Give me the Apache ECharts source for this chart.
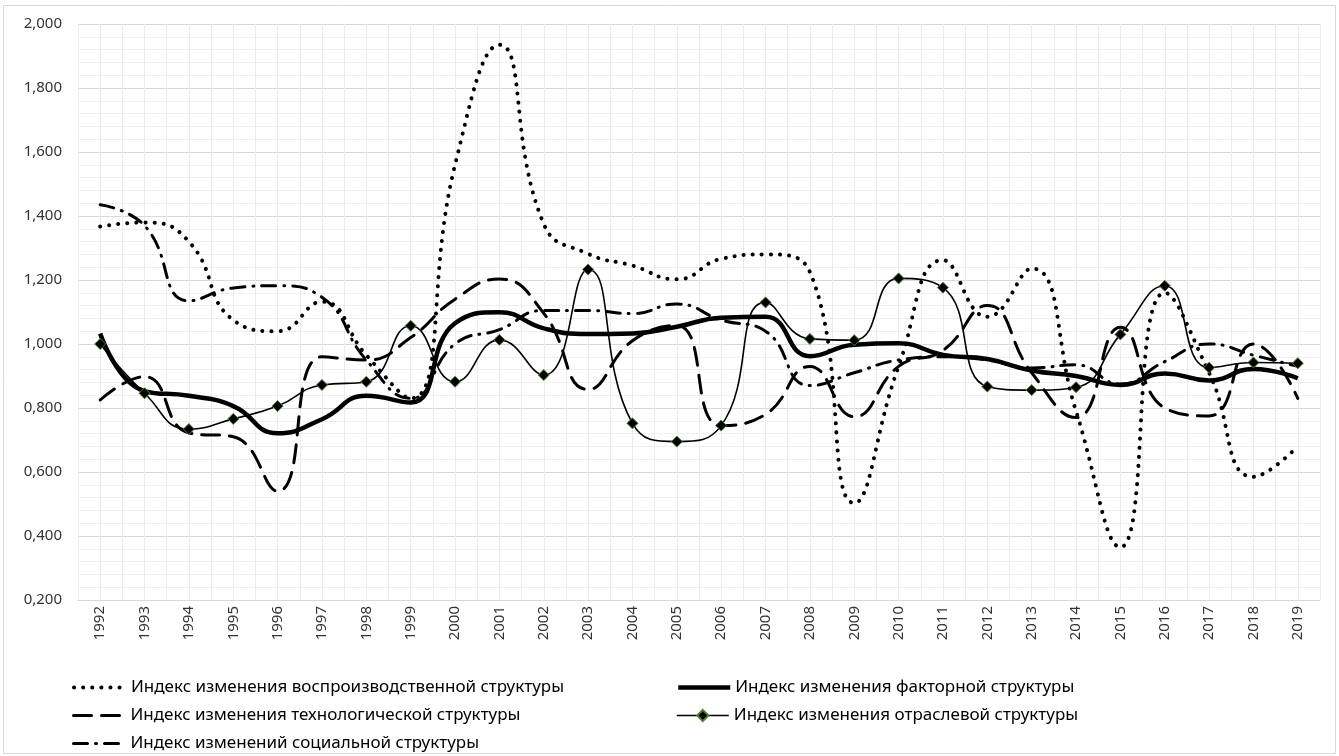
<!DOCTYPE html>
<html>
<head>
<meta charset="utf-8">
<script src="https://cdn.jsdelivr.net/npm/echarts@6/dist/echarts.min.js"></script>
<style>
  html, body { margin: 0; padding: 0; background: #fff; }
  #main { width: 1339px; height: 756px; }
</style>
</head>
<body>
<div id="main"></div>
<script>
// годы и значения индексов
var years = [1992, 1993, 1994, 1995, 1996, 1997, 1998, 1999, 2000, 2001, 2002, 2003, 2004, 2005,
  2006, 2007, 2008, 2009, 2010, 2011, 2012, 2013, 2014, 2015, 2016, 2017, 2018, 2019];

var vosproizv = [1.367, 1.380, 1.320, 1.075, 1.040, 1.132, 0.965, 0.830, 1.560, 1.935, 1.375, 1.282, 1.245, 1.202,
  1.266, 1.280, 1.225, 0.503, 0.930, 1.262, 1.085, 1.236, 0.790, 0.365, 1.160, 0.910, 0.585, 0.680];
var faktor = [1.033, 0.853, 0.838, 0.806, 0.721, 0.765, 0.838, 0.817, 1.065, 1.099, 1.049, 1.031, 1.033, 1.054,
  1.082, 1.085, 0.962, 0.998, 1.002, 0.966, 0.953, 0.917, 0.900, 0.872, 0.908, 0.886, 0.922, 0.893];
var tehnolog = [0.825, 0.898, 0.722, 0.710, 0.540, 0.960, 0.950, 1.020, 1.140, 1.203, 1.096, 0.858, 1.010, 1.058,
  0.745, 0.780, 0.930, 0.773, 0.930, 0.980, 1.120, 0.910, 0.770, 1.052, 0.800, 0.775, 1.000, 0.830];
var otrasl = [1.000, 0.846, 0.734, 0.766, 0.806, 0.872, 0.882, 1.057, 0.882, 1.013, 0.903, 1.233, 0.752, 0.695,
  0.745, 1.130, 1.016, 1.012, 1.205, 1.176, 0.867, 0.856, 0.865, 1.030, 1.182, 0.926, 0.942, 0.940];
var social = [1.435, 1.370, 1.135, 1.175, 1.182, 1.146, 0.950, 0.830, 1.000, 1.045, 1.105, 1.105, 1.095, 1.125,
  1.075, 1.040, 0.870, 0.910, 0.950, 0.960, 0.950, 0.925, 0.935, 0.875, 0.945, 1.000, 0.965, 0.930];

var names = [
  'Индекс изменения воспроизводственной структуры',
  'Индекс изменения факторной структуры',
  'Индекс изменения технологической структуры',
  'Индекс изменения отраслевой структуры',
  'Индекс изменений социальной структуры'
];

function pairs(vals) {
  return years.map(function (y, i) { return [y, vals[i]]; });
}

var myChart = echarts.init(document.getElementById('main'));

var font = 'Noto Sans';

// одна легенда на пункт: две колонки, три строки
function legendItem(name, left, top, marker) {
  return {
    left: left,
    top: top,
    padding: 0,
    itemWidth: 52,
    itemHeight: 14,
    lineStyle: { width: 'inherit' },
    textStyle: { fontFamily: font, fontSize: 17, color: '#000' },
    data: [marker ? name : { name: name, itemStyle: { opacity: 0 } }]
  };
}

var option = {
  backgroundColor: '#fff',
  animation: false,
  textStyle: { fontFamily: font },
  graphic: [{
    type: 'rect',
    shape: { x: 3.5, y: 5.5, width: 1332, height: 748 },
    style: { fill: 'none', stroke: '#d9d9d9', lineWidth: 1 },
    silent: true
  }],
  grid: { left: 78, right: 19, top: 24, bottom: 156 },
  legend: [
    legendItem(names[0], 72, 679, false),
    legendItem(names[1], 676, 679, false),
    legendItem(names[2], 72, 707, false),
    legendItem(names[3], 676, 707, true),
    legendItem(names[4], 72, 735, false)
  ],
  xAxis: {
    type: 'value',
    min: 1991.5,
    max: 2019.5,
    interval: 0.5,
    axisLine: { show: true, lineStyle: { color: '#d9d9d9' } },
    axisTick: { show: false },
    axisLabel: {
      rotate: 90,
      fontFamily: font,
      fontSize: 15,
      color: '#333',
      margin: 6,
      showMinLabel: false,
      showMaxLabel: false,
      formatter: function (v) { return Math.abs(v - Math.round(v)) < 1e-6 ? String(Math.round(v)) : ''; }
    },
    splitLine: { show: true, lineStyle: { color: '#ececec', width: 1 } }
  },
  yAxis: {
    type: 'value',
    min: 0.2,
    max: 2.0,
    interval: 0.2,
    axisLine: { show: false },
    axisTick: { show: false },
    axisLabel: {
      fontFamily: font,
      fontSize: 15,
      color: '#333',
      margin: 16,
      formatter: function (v) { return v.toFixed(3).replace('.', ','); }
    },
    splitLine: { show: true, lineStyle: { color: '#d9d9d9', width: 1 } },
    minorTick: { show: false, splitNumber: 5 },
    minorSplitLine: { show: true, lineStyle: { color: '#efefef', width: 1 } }
  },
  series: [
    {
      name: names[0],
      type: 'line',
      smooth: 0.5,
      symbol: 'none',
      data: pairs(vosproizv),
      itemStyle: { color: '#000' },
      lineStyle: { color: '#000', width: 4, type: [0.1, 9], cap: 'round' },
      z: 3
    },
    {
      name: names[1],
      type: 'line',
      smooth: 0.5,
      symbol: 'none',
      data: pairs(faktor),
      itemStyle: { color: '#000' },
      lineStyle: { color: '#000', width: 4.5 },
      z: 4
    },
    {
      name: names[2],
      type: 'line',
      smooth: 0.5,
      symbol: 'none',
      data: pairs(tehnolog),
      itemStyle: { color: '#000' },
      lineStyle: { color: '#000', width: 3, type: [18, 10], cap: 'round' },
      z: 3
    },
    {
      name: names[3],
      type: 'line',
      smooth: 0.5,
      symbol: 'diamond',
      symbolSize: 11,
      showAllSymbol: true,
      data: pairs(otrasl),
      itemStyle: { color: '#000', borderColor: '#4f7f2a', borderWidth: 1 },
      lineStyle: { color: '#000', width: 1.6 },
      z: 5
    },
    {
      name: names[4],
      type: 'line',
      smooth: 0.5,
      symbol: 'none',
      data: pairs(social),
      itemStyle: { color: '#000' },
      lineStyle: { color: '#000', width: 3, type: [14, 8, 1, 8], cap: 'round' },
      z: 3
    }
  ]
};

myChart.setOption(option);
</script>
</body>
</html>
